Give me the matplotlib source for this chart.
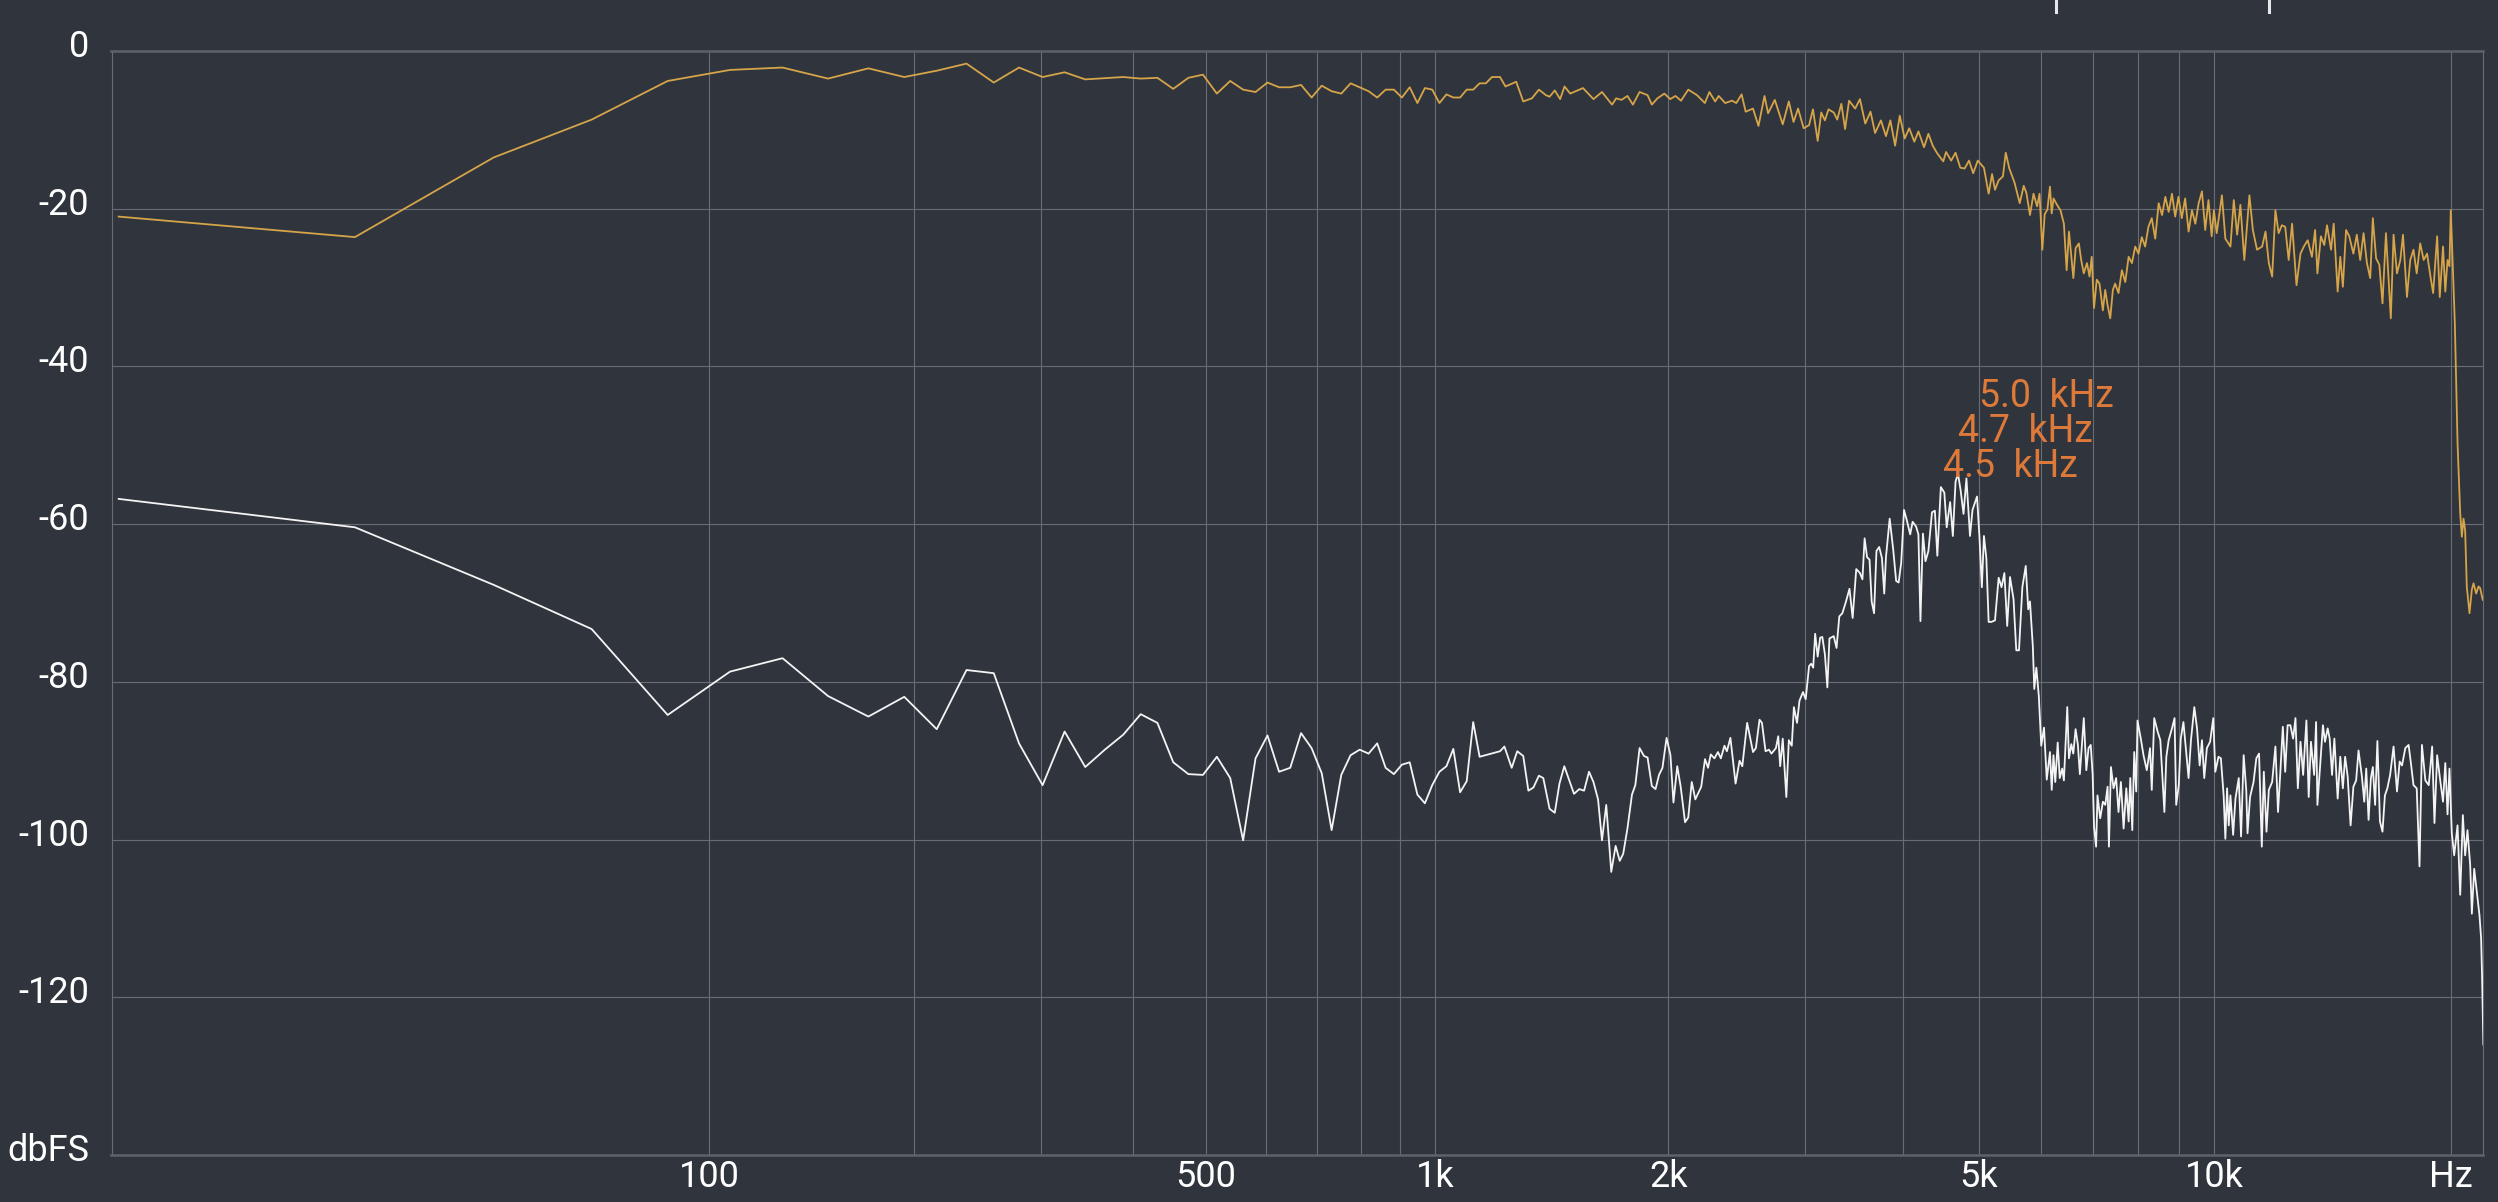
import numpy as np
import matplotlib
matplotlib.use("Agg")
import matplotlib.pyplot as plt
from matplotlib.transforms import ScaledTranslation, blended_transform_factory

plt.rcParams['font.family'] = ['Roboto', 'DejaVu Sans']

# ---------------- data ----------------
bin_freqs = [0, 21.5, 43.1, 64.6, 86.1, 107.7, 129.2, 150.7, 172.3, 193.8, 215.3, 236.9,
             258.4, 279.9, 301.5, 323.0, 344.5, 366.1, 387.6, 409.1, 430.7, 452.2, 473.7,
             495.3, 516.8, 538.3, 559.9, 581.4, 602.9, 624.5, 646.0, 667.5, 689.1, 710.6,
             732.1, 753.7, 775.2, 796.7, 818.3, 839.8, 861.3, 882.9, 904.4, 925.9, 947.5,
             969.0, 990.5, 1012.1, 1033.6, 1055.1, 1076.7, 1098.2, 1119.7, 1141.3, 1162.8, 1184.3]

orange_low_db = [-21.0, -23.6, -13.5, -8.7, -3.8, -2.4, -2.1, -3.5, -2.2, -3.3, -2.5, -1.6,
                 -4.0, -2.1, -3.3, -2.7, -3.6, -3.45, -3.3, -3.5, -3.4, -4.8, -3.4, -3.0,
                 -5.4, -3.8, -4.9, -5.2, -4.0, -4.6, -4.6, -4.3, -5.9, -4.4, -5.1, -5.4,
                 -4.1, -4.6, -5.1, -5.9, -4.9, -4.9, -5.9, -4.6, -6.6, -4.7, -4.9, -6.6,
                 -5.5, -5.9, -5.9, -4.9, -4.9, -4.1, -4.1, -3.3]

orange_mid = [(1213,-3.3),(1233,-4.5),(1273,-3.9),(1300,-6.4),(1334,-6.0),(1362,-4.9),(1391,-5.6),
    (1406,-5.8),(1428,-5.0),(1451,-6.1),(1470,-4.5),(1495,-5.4),(1553,-4.7),(1602,-6.1),(1643,-5.2),
    (1693,-6.8),(1714,-6.0),(1741,-6.2),(1772,-5.7),(1801,-6.8),(1837,-5.2),(1881,-5.6),(1905,-6.8),
    (1937,-6.0),(1977,-5.4),(2012,-6.1),(2043,-5.7),(2077,-6.3),(2122,-4.9),(2178,-5.6),(2229,-6.6),
    (2259,-5.2),(2298,-6.4),(2322,-5.7),(2367,-6.6),(2416,-6.3),(2446,-6.6),(2485,-5.5),(2515,-7.7),
    (2570,-7.3),(2612,-9.5),(2659,-5.7),(2687,-7.9),(2741,-6.2),(2806,-9.3),(2857,-6.4),(2897,-9.0),
    (2936,-7.3),(2985,-9.8),(3033,-9.4),(3068,-7.4),(3111,-11.4),(3144,-7.8),(3178,-8.8),(3212,-7.4),
    (3262,-7.8),(3296,-8.7),(3336,-6.7),(3373,-9.9),(3413,-6.3),(3475,-7.3),(3524,-6.1),(3580,-9.2),
    (3636,-7.7),(3685,-10.4),(3749,-8.8),(3805,-10.8),(3855,-8.8),(3909,-12.0),(3963,-8.2),(4021,-11.1),
    (4075,-9.8),(4137,-11.5),(4187,-10.2),(4257,-12.2),(4312,-10.5),(4367,-12.0),(4427,-13.0),(4505,-14.0),
    (4542,-12.8),(4611,-13.9),(4671,-12.9),(4737,-14.8),(4798,-14.9),(4860,-13.9),(4920,-15.5),(4987,-13.9),
    (5078,-14.8),(5149,-18.1),(5201,-15.6),(5246,-17.6),(5303,-16.4),(5370,-15.9),(5415,-12.9),(5472,-14.9),
    (5557,-16.7),(5642,-19.3),(5709,-17.1),(5754,-18.0),(5815,-20.8),(5876,-18.1),(5938,-19.7),(5981,-18.1),
    (6030,-25.2),(6072,-20.7),(6121,-20.1)]

orange_high = [(6167,-17.2),(6199,-20.6),(6232,-18.7),(6296,-19.5),(6361,-20.2),(6425,-21.9),(6477,-27.8),
    (6522,-22.9),(6606,-28.8),(6651,-25.0),(6715,-24.4),(6760,-26.5),(6812,-28.2),(6876,-26.9),(6928,-28.6),
    (6973,-26.1),(7020,-32.6),(7077,-29.0),(7134,-29.5),(7205,-32.9),(7255,-30.3),(7305,-32.2),(7363,-33.9),
    (7420,-30.3),(7470,-29.5),(7544,-30.7),(7620,-27.8),(7696,-29.3),(7772,-26.1),(7848,-26.9),(7924,-24.8),
    (8000,-25.7),(8079,-23.6),(8158,-24.8),(8237,-22.3),(8319,-21.2),(8404,-23.8),(8489,-19.3),(8574,-20.8),
    (8658,-18.5),(8743,-20.4),(8828,-18.1),(8912,-21.0),(8997,-18.5),(9086,-21.2),(9176,-18.7),(9269,-22.9),
    (9362,-20.2),(9455,-21.9),(9548,-19.3),(9641,-17.8),(9734,-22.7),(9827,-18.9),(9920,-23.5),(9985,-20.2),
    (10068,-23.1),(10223,-18.3),(10327,-23.8),(10482,-24.8),(10586,-18.9),(10690,-23.3),(10793,-19.5),
    (10918,-26.5),(11001,-22.3),(11083,-18.3),(11196,-22.7),(11333,-25.2),(11505,-24.8),(11619,-22.9),
    (11733,-26.9),(11848,-28.6),(11962,-20.2),(12076,-23.1),(12191,-22.1),(12311,-22.3),(12437,-26.5),
    (12562,-21.9),(12726,-29.7),(12876,-25.7),(13002,-24.8),(13152,-24.0),(13316,-26.1),(13441,-22.7),
    (13532,-28.2),(13670,-23.5),(13808,-24.6),(13919,-22.1),(14085,-25.2),(14195,-21.9),(14361,-30.5),
    (14472,-26.1),(14582,-29.9),(14720,-22.7),(14858,-23.5),(15039,-25.7),(15191,-23.3),(15344,-26.5),
    (15496,-23.1),(15649,-26.9),(15801,-28.8),(15923,-21.2),(16076,-26.3),(16229,-27.1),(16381,-32.0),
    (16548,-23.1),(16786,-33.9),(16922,-23.3),(17092,-28.2),(17262,-26.5),(17397,-23.3),(17601,-31.2),
    (17771,-26.5),(17941,-25.2),(18111,-28.2),(18297,-24.4),(18484,-26.5),(18670,-25.7),(18857,-28.6),
    (19006,-30.7),(19230,-23.5),(19379,-31.2),(19565,-24.8),(19696,-30.5),(19826,-26.5),(19938,-27.3),
    (20015,-20.2),(20135,-27.3),(20255,-34.5),(20416,-49.7),(20576,-58.6),(20677,-61.6),(20777,-59.3),
    (20877,-60.8),(20978,-67.9),(21145,-71.3),(21292,-68.3),(21397,-67.5),(21564,-68.8),(21711,-67.9),
    (21816,-68.1),(21983,-69.6)]

white_low_db = [-56.8, -60.4, -67.7, -73.3, -84.2, -78.7, -77.0, -81.8, -84.4, -81.9, -86.0, -78.5,
                -78.9, -87.8, -93.1, -86.3, -90.8, -88.6, -86.7, -84.1, -85.2, -90.2, -91.7, -91.8,
                -89.5, -92.2, -100.1, -89.7, -86.8, -91.4, -90.9, -86.5, -88.4, -91.6, -98.8, -91.8,
                -89.3, -88.6, -89.1, -87.8, -90.9, -91.7, -90.5, -90.2, -94.3, -95.4, -93.1, -91.4,
                -90.7, -88.5, -94.0, -92.6, -85.1, -89.5]

white_mid = [(1213,-88.8),(1229,-88.2),(1256,-90.9),(1277,-88.8),(1300,-89.4),(1320,-93.8),(1340,-93.4),
    (1362,-91.9),(1380,-92.2),(1406,-96.1),(1428,-96.6),(1448,-92.9),(1469,-90.7),(1512,-94.2),(1536,-93.6),
    (1558,-93.8),(1581,-91.4),(1602,-92.7),(1624,-94.9),(1643,-100.1),(1664,-95.6),(1689,-104.1),(1711,-100.8),
    (1732,-102.7),(1750,-101.8),(1772,-98.6),(1796,-94.3),(1814,-93.1),(1837,-88.4),(1861,-89.4),(1881,-89.6),
    (1905,-93.2),(1926,-93.6),(1946,-91.8),(1966,-90.9),(1990,-87.1),(2013,-89.3),(2031,-95.3),(2054,-90.7),
    (2075,-93.3),(2102,-97.8),(2122,-97.2),(2144,-92.7),(2167,-94.9),(2205,-93.3),(2230,-89.8),(2250,-90.9),
    (2268,-89.2),(2293,-89.7),(2317,-88.9),(2337,-89.7),(2362,-88.1),(2379,-88.8),(2404,-87.1),(2441,-92.9),
    (2470,-90.0),(2490,-90.7),(2526,-85.2),(2570,-88.9),(2592,-88.4),(2620,-84.8),(2639,-85.2),(2667,-88.8),
    (2694,-88.6),(2714,-89.1),(2750,-88.4),(2769,-86.9),(2785,-90.7),(2806,-87.2),(2836,-94.6),(2857,-87.4),
    (2882,-88.1),(2900,-83.2),(2927,-85.2),(2948,-82.4),(2979,-81.3),(3003,-82.2),(3033,-78.0),(3052,-77.7),
    (3070,-78.2),(3088,-73.9),(3111,-76.8),(3134,-74.4),(3154,-74.3),(3178,-76.5),(3201,-80.7),(3221,-74.5),
    (3262,-74.2),(3289,-75.7),(3316,-71.7),(3346,-71.3),(3380,-69.9),(3417,-68.2),(3449,-71.9),(3486,-65.7),
    (3524,-66.2),(3550,-67.0),(3573,-61.8),(3599,-64.2),(3625,-64.5),(3648,-69.8),(3674,-71.3),(3700,-63.4),
    (3730,-62.9),(3760,-64.3),(3786,-68.8),(3805,-64.2),(3847,-59.3),(3888,-63.3),(3921,-67.2),(3950,-67.4),
    (3980,-64.9),(4013,-58.2),(4046,-59.5),(4087,-61.3),(4116,-59.7),(4158,-60.3),(4187,-61.3),(4212,-72.3),
    (4243,-61.2),(4275,-64.7),(4312,-63.4),(4358,-58.5),(4395,-58.3),(4427,-64.0),(4473,-55.3),(4519,-56.0),
    (4551,-60.4),(4597,-57.2),(4634,-61.5),(4671,-54.6),(4705,-53.6),(4741,-55.7),(4782,-58.7),(4823,-54.2),
    (4874,-61.5),(4910,-58.2),(4976,-56.5),(5012,-61.7),(5047,-68.0),(5078,-61.5),(5114,-64.3),(5149,-72.4),
    (5190,-72.4),(5246,-72.2),(5303,-66.8),(5348,-68.0),(5393,-66.2),(5438,-72.9),(5483,-66.7),(5540,-69.5),
    (5585,-76.0),(5630,-76.0),(5686,-68.0),(5743,-65.3),(5785,-70.8),(5815,-69.8),(5864,-75.5),(5889,-80.9),
    (5925,-78.2),(5968,-81.8),(6011,-88.1),(6060,-85.8),(6109,-92.4)]

white_high = [(6167,-88.9),(6199,-93.7),(6231,-89.3),(6264,-92.7),(6309,-87.7),(6347,-92.2),(6393,-91.0),
    (6425,-92.5),(6489,-83.2),(6521,-89.7),(6567,-87.9),(6605,-89.1),(6650,-86.0),(6695,-88.0),(6734,-91.7),
    (6812,-84.6),(6863,-91.2),(6908,-88.4),(6953,-88.0),(6992,-91.8),(7021,-98.4),(7063,-100.9),(7092,-94.4),
    (7149,-97.3),(7206,-95.2),(7256,-95.6),(7306,-93.3),(7335,-100.9),(7378,-90.8),(7435,-93.5),(7492,-92.2),
    (7544,-96.5),(7597,-92.7),(7658,-98.6),(7719,-93.5),(7772,-97.7),(7810,-92.2),(7856,-98.8),(7901,-88.9),
    (7947,-93.9),(7977,-84.9),(8055,-87.2),(8119,-89.3),(8198,-91.2),(8277,-88.4),(8319,-93.7),(8379,-84.6),
    (8463,-86.3),(8531,-87.4),(8633,-96.5),(8683,-89.5),(8743,-87.4),(8828,-85.9),(8895,-84.6),(8938,-95.6),
    (9006,-93.1),(9059,-87.2),(9130,-85.1),(9204,-88.9),(9269,-92.2),(9334,-87.4),(9427,-83.2),(9502,-85.9),
    (9576,-90.6),(9641,-87.4),(9706,-92.2),(9781,-88.4),(9874,-87.6),(9967,-84.6),(10026,-91.4),(10120,-89.5),
    (10192,-89.7),(10275,-94.4),(10327,-99.9),(10379,-93.5),(10430,-98.2),(10482,-94.4),(10565,-99.4),
    (10638,-94.8),(10741,-92.2),(10814,-99.6),(10897,-89.3),(10980,-93.7),(11021,-99.2),(11104,-94.6),
    (11218,-92.7),(11310,-89.7),(11401,-89.1),(11493,-100.9),(11562,-91.4),(11653,-99.0),(11733,-93.7),
    (11848,-92.7),(11962,-88.2),(12054,-96.5),(12134,-91.6),(12225,-85.7),(12311,-91.4),(12399,-85.5),
    (12499,-85.5),(12600,-87.2),(12688,-84.6),(12776,-93.5),(12876,-87.6),(12977,-91.8),(13102,-84.9),
    (13190,-94.6),(13278,-87.6),(13403,-91.8),(13479,-85.1),(13532,-95.6),(13642,-90.6),(13753,-85.5),
    (13836,-87.6),(13946,-85.9),(14029,-87.2),(14126,-91.8),(14223,-87.2),(14361,-94.8),(14472,-89.5),
    (14582,-93.5),(14679,-89.5),(14789,-92.0),(14917,-98.2),(15039,-93.3),(15161,-92.5),(15268,-88.7),
    (15420,-92.0),(15527,-95.2),(15618,-91.0),(15725,-97.5),(15832,-92.2),(15923,-90.8),(16030,-95.6),
    (16137,-87.5),(16259,-97.7),(16381,-99.0),(16497,-94.4),(16616,-93.5),(16752,-91.8),(16922,-88.2),
    (17092,-93.9),(17228,-90.1),(17346,-90.6),(17516,-88.4),(17686,-88.0),(17805,-90.3),(17941,-93.1),
    (18111,-93.5),(18260,-103.4),(18391,-88.0),(18577,-92.5),(18763,-93.1),(18950,-88.2),(19080,-97.9),
    (19230,-89.3),(19416,-92.7),(19565,-95.2),(19696,-90.3),(19826,-96.8),(19938,-91.0),(20075,-99.2),
    (20216,-102.0),(20416,-98.2),(20576,-107.0),(20737,-96.9),(20877,-102.0),(21020,-98.8),(21187,-103.2),
    (21292,-109.4),(21439,-103.7),(21606,-106.6),(21774,-109.6),(21878,-112.5),(21941,-117.4),(22025,-126.0)]

peak_labels = ["5.0  kHz", "4.7  kHz", "4.5  kHz"]
peak_freqs = [5000, 4700, 4500]
peak_label_db = [-43.8, -48.3, -52.7]

marker_freqs = [6279, 11744]

grid_freqs = [100, 200, 300, 400, 500, 600, 700, 800, 900, 1000, 2000, 3000, 4000, 5000,
              6000, 7000, 8000, 9000, 10000, 20000]
xtick_freqs = [100, 500, 1000, 2000, 5000, 10000, 20000]
xtick_labels = ['100', '500', '1k', '2k', '5k', '10k', 'Hz']
ytick_vals = [0, -20, -40, -60, -80, -100, -120, -140]
ytick_labels = ['0', '-20', '-40', '-60', '-80', '-100', '-120', 'dbFS']

# ---------------- assemble ----------------
orange_f = list(bin_freqs[:len(orange_low_db)]) + [p[0] for p in orange_mid] + [p[0] for p in orange_high]
orange_v = list(orange_low_db) + [p[1] for p in orange_mid] + [p[1] for p in orange_high]
white_f = list(bin_freqs[:len(white_low_db)]) + [p[0] for p in white_mid] + [p[0] for p in white_high]
white_v = list(white_low_db) + [p[1] for p in white_mid] + [p[1] for p in white_high]

BG = '#30353d'
GRID = '#686d75'
ORANGE = '#d6a449'
LABEL_ORANGE = '#dd7a3a'

OFFS = 21.533
def fwd(f):
    return np.log10(np.maximum(np.asarray(f, dtype=float) + OFFS, 1e-3))
def inv(v):
    return 10 ** np.asarray(v, dtype=float) - OFFS

W, H = 2498, 1202
fig = plt.figure(figsize=(W / 100, H / 100), dpi=100, facecolor=BG)
ax = fig.add_axes([111.5 / W, 1 - 1155 / H, (2483 - 111.5) / W, (1155 - 51) / H])
ax.set_facecolor(BG)
ax.set_xscale('function', functions=(fwd, inv))
ax.set_xlim(-0.45, 22000)
ax.set_ylim(-140, 0)

for f in grid_freqs:
    ax.axvline(f, color=GRID, lw=0.8, zorder=1)
for v in ytick_vals[1:-1]:
    ax.axhline(v, color=GRID, lw=0.8, zorder=1)

for s in ['left', 'right']:
    ax.spines[s].set_color(GRID)
    ax.spines[s].set_linewidth(0.8)
for s in ['top', 'bottom']:
    ax.spines[s].set_color('#5e636b')
    ax.spines[s].set_linewidth(1.8)

ax.plot(orange_f, orange_v, color=ORANGE, lw=1.3, zorder=3)
ax.plot(white_f, white_v, color='#f4f4f4', lw=1.3, zorder=4)

ax.set_xticks(xtick_freqs)
ax.set_xticklabels(xtick_labels)
ax.set_yticks(ytick_vals)
ax.set_yticklabels(ytick_labels)
ax.minorticks_off()
ax.tick_params(axis='both', length=0, colors='white', labelsize=26)
ax.tick_params(axis='y', pad=16)
ax.tick_params(axis='x', pad=3)
off = ScaledTranslation(0, 8 / 100, fig.dpi_scale_trans)
for lab in ax.get_yticklabels():
    lab.set_transform(lab.get_transform() + off)

for txt, f, v in zip(peak_labels, peak_freqs, peak_label_db):
    ax.text(f, v, txt, color=LABEL_ORANGE, fontsize=27, ha='left', va='center', zorder=5)

tr = blended_transform_factory(ax.transData, fig.transFigure)
for f in marker_freqs:
    ax.plot([f, f], [1 - 12 / H, 1.0], color='#e4e6ea', lw=2.2, transform=tr, clip_on=False)

fig.savefig('out.png', dpi=100, facecolor=BG)
